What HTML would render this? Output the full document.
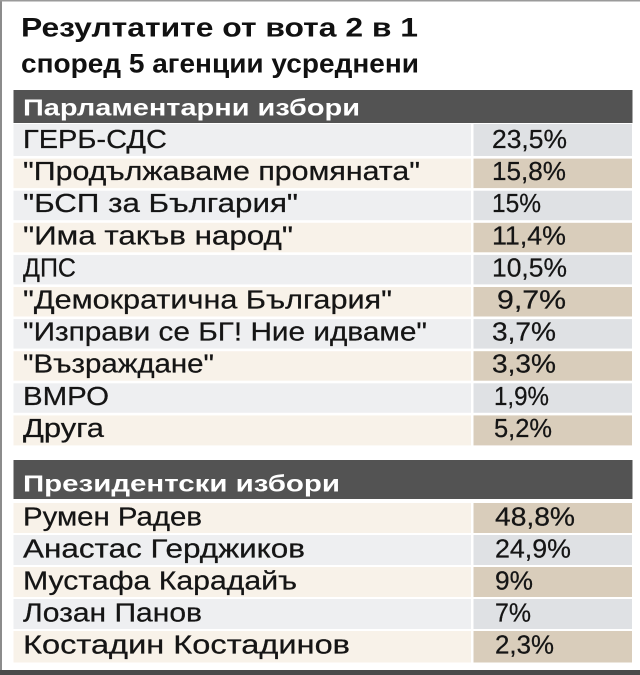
<!DOCTYPE html>
<html>
<head>
<meta charset="utf-8">
<style>
html,body{margin:0;padding:0;background:#fff;}
svg{display:block;}
text{font-family:"Liberation Sans","Noto Sans CJK SC",sans-serif;}
.t{font-weight:bold;font-size:27px;fill:#111;}
.h{font-weight:bold;font-size:23px;fill:#fff;}
.n{font-size:25.5px;fill:#151515;stroke:#151515;stroke-width:0.25px;}
.v{font-size:25.5px;fill:#151515;stroke:#151515;stroke-width:0.25px;}
</style>
</head>
<body>
<svg width="640" height="675" viewBox="0 0 640 675" xmlns="http://www.w3.org/2000/svg">
<rect x="0" y="0" width="640" height="675" fill="#fff"/>
<!-- borders -->
<rect x="0" y="0" width="2" height="675" fill="#8c8c8c"/>
<rect x="0" y="0" width="640" height="1.5" fill="#9a9a9a"/>
<rect x="0" y="670" width="640" height="5" fill="#4a4a4a"/>

<!-- title -->
<text class="t" x="21" y="36.5" textLength="397" lengthAdjust="spacingAndGlyphs">Резултатите от вота 2 в 1</text>
<text class="t" x="21" y="72.5" textLength="398" lengthAdjust="spacingAndGlyphs">според 5 агенции усреднени</text>

<!-- header 1 -->
<rect x="13.5" y="90" width="619" height="33" fill="#535353"/>
<text class="h" x="23" y="115.5" textLength="337" lengthAdjust="spacingAndGlyphs">Парламентарни избори</text>

<!-- parliament rows -->
<g>
<rect x="13.5" y="124" width="457.5" height="32" fill="#eeeff1"/><rect x="473.5" y="124" width="158.5" height="32" fill="#dfe1e4"/>
<rect x="13.5" y="158.6" width="457.5" height="29.5" fill="#f8f2e9"/><rect x="473.5" y="158.6" width="158.5" height="29.5" fill="#d9cdbb"/>
<rect x="13.5" y="190.7" width="457.5" height="29.5" fill="#eeeff1"/><rect x="473.5" y="190.7" width="158.5" height="29.5" fill="#dfe1e4"/>
<rect x="13.5" y="222.8" width="457.5" height="29.5" fill="#f8f2e9"/><rect x="473.5" y="222.8" width="158.5" height="29.5" fill="#d9cdbb"/>
<rect x="13.5" y="254.9" width="457.5" height="29.5" fill="#eeeff1"/><rect x="473.5" y="254.9" width="158.5" height="29.5" fill="#dfe1e4"/>
<rect x="13.5" y="287" width="457.5" height="29.5" fill="#f8f2e9"/><rect x="473.5" y="287" width="158.5" height="29.5" fill="#d9cdbb"/>
<rect x="13.5" y="319.1" width="457.5" height="29.5" fill="#eeeff1"/><rect x="473.5" y="319.1" width="158.5" height="29.5" fill="#dfe1e4"/>
<rect x="13.5" y="351.2" width="457.5" height="29.5" fill="#f8f2e9"/><rect x="473.5" y="351.2" width="158.5" height="29.5" fill="#d9cdbb"/>
<rect x="13.5" y="383.3" width="457.5" height="29.5" fill="#eeeff1"/><rect x="473.5" y="383.3" width="158.5" height="29.5" fill="#dfe1e4"/>
<rect x="13.5" y="415.4" width="457.5" height="30" fill="#f8f2e9"/><rect x="473.5" y="415.4" width="158.5" height="30" fill="#d9cdbb"/>
</g>

<text class="n" x="23" y="148" textLength="144" lengthAdjust="spacingAndGlyphs">ГЕРБ-СДС</text>
<text class="v" x="492" y="148" textLength="75" lengthAdjust="spacingAndGlyphs">23,5%</text>

<text class="n" x="23" y="180.1" textLength="397" lengthAdjust="spacingAndGlyphs">"Продължаваме промяната"</text>
<text class="v" x="492" y="180.1" textLength="74" lengthAdjust="spacingAndGlyphs">15,8%</text>

<text class="n" x="23" y="212.2" textLength="275" lengthAdjust="spacingAndGlyphs">"БСП за България"</text>
<text class="v" x="492" y="212.2" textLength="49" lengthAdjust="spacingAndGlyphs">15%</text>

<text class="n" x="23" y="244.3" textLength="270" lengthAdjust="spacingAndGlyphs">"Има такъв народ"</text>
<text class="v" x="492" y="244.3" textLength="74" lengthAdjust="spacingAndGlyphs">11,4%</text>

<text class="n" x="23" y="276.4" textLength="53" lengthAdjust="spacingAndGlyphs">ДПС</text>
<text class="v" x="492" y="276.4" textLength="75" lengthAdjust="spacingAndGlyphs">10,5%</text>

<text class="n" x="23" y="308.5" textLength="369" lengthAdjust="spacingAndGlyphs">"Демократична България"</text>
<text class="v" x="497" y="308.5" textLength="69" lengthAdjust="spacingAndGlyphs">9,7%</text>

<text class="n" x="23" y="340.6" textLength="404" lengthAdjust="spacingAndGlyphs">"Изправи се БГ! Ние идваме"</text>
<text class="v" x="492" y="340.6" textLength="64" lengthAdjust="spacingAndGlyphs">3,7%</text>

<text class="n" x="23" y="372.7" textLength="191" lengthAdjust="spacingAndGlyphs">"Възраждане"</text>
<text class="v" x="492" y="372.7" textLength="64" lengthAdjust="spacingAndGlyphs">3,3%</text>

<text class="n" x="23" y="404.8" textLength="86" lengthAdjust="spacingAndGlyphs">ВМРО</text>
<text class="v" x="494" y="404.8" textLength="55" lengthAdjust="spacingAndGlyphs">1,9%</text>

<text class="n" x="23" y="436.9" textLength="81" lengthAdjust="spacingAndGlyphs">Друга</text>
<text class="v" x="494" y="436.9" textLength="58" lengthAdjust="spacingAndGlyphs">5,2%</text>

<!-- header 2 -->
<rect x="13.5" y="460" width="619" height="39" fill="#535353"/>
<text class="h" x="23" y="491.5" textLength="317" lengthAdjust="spacingAndGlyphs">Президентски избори</text>

<!-- president rows -->
<rect x="13.5" y="503" width="457.5" height="30" fill="#f8f2e9"/><rect x="473.5" y="503" width="158.5" height="30" fill="#d9cdbb"/>
<rect x="13.5" y="535" width="457.5" height="30" fill="#eeeff1"/><rect x="473.5" y="535" width="158.5" height="30" fill="#dfe1e4"/>
<rect x="13.5" y="567" width="457.5" height="30" fill="#f8f2e9"/><rect x="473.5" y="567" width="158.5" height="30" fill="#d9cdbb"/>
<rect x="13.5" y="599" width="457.5" height="30" fill="#eeeff1"/><rect x="473.5" y="599" width="158.5" height="30" fill="#dfe1e4"/>
<rect x="13.5" y="631" width="457.5" height="31.5" fill="#f8f2e9"/><rect x="473.5" y="631" width="158.5" height="31.5" fill="#d9cdbb"/>

<text class="n" x="23" y="525.5" textLength="179" lengthAdjust="spacingAndGlyphs">Румен Радев</text>
<text class="v" x="495" y="525.5" textLength="80" lengthAdjust="spacingAndGlyphs">48,8%</text>

<text class="n" x="23" y="557.5" textLength="282" lengthAdjust="spacingAndGlyphs">Анастас Герджиков</text>
<text class="v" x="495" y="557.5" textLength="76" lengthAdjust="spacingAndGlyphs">24,9%</text>

<text class="n" x="23" y="589.5" textLength="274" lengthAdjust="spacingAndGlyphs">Мустафа Карадайъ</text>
<text class="v" x="495" y="589.5" textLength="38" lengthAdjust="spacingAndGlyphs">9%</text>

<text class="n" x="23" y="621.5" textLength="179" lengthAdjust="spacingAndGlyphs">Лозан Панов</text>
<text class="v" x="495" y="621.5" textLength="36" lengthAdjust="spacingAndGlyphs">7%</text>

<text class="n" x="23" y="653.5" textLength="327" lengthAdjust="spacingAndGlyphs">Костадин Костадинов</text>
<text class="v" x="495" y="653.5" textLength="59" lengthAdjust="spacingAndGlyphs">2,3%</text>
</svg>
</body>
</html>
